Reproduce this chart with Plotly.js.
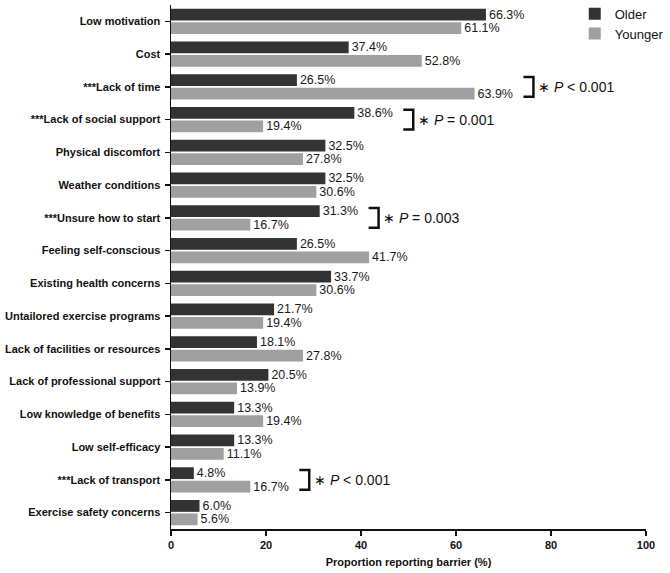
<!DOCTYPE html>
<html>
<head>
<meta charset="utf-8">
<script src="https://cdn.plot.ly/plotly-3.0.1.min.js"></script>
<style>html,body{margin:0;padding:0;background:#fff;}#chart{width:670px;height:573px;}</style>
</head>
<body>
<div id="chart"></div>
<script>
const categories = [
  "Low motivation", "Cost", "***Lack of time", "***Lack of social support",
  "Physical discomfort", "Weather conditions", "***Unsure how to start",
  "Feeling self-conscious", "Existing health concerns", "Untailored exercise programs",
  "Lack of facilities or resources", "Lack of professional support",
  "Low knowledge of benefits", "Low self-efficacy", "***Lack of transport",
  "Exercise safety concerns"
];
const olderValues = [66.3, 37.4, 26.5, 38.6, 32.5, 32.5, 31.3, 26.5, 33.7, 21.7, 18.1, 20.5, 13.3, 13.3, 4.8, 6.0];
const youngerValues = [61.1, 52.8, 63.9, 19.4, 27.8, 30.6, 16.7, 41.7, 30.6, 19.4, 27.8, 13.9, 19.4, 11.1, 16.7, 5.6];
const sigCategories = ["***Lack of time", "***Lack of social support", "***Unsure how to start", "***Lack of transport"];
const sigLabels = ["<i>P</i> < 0.001", "<i>P</i> = 0.001", "<i>P</i> = 0.003", "<i>P</i> < 0.001"];
const xTicks = [0, 20, 40, 60, 80, 100];

const FONT = "Liberation Sans, Arial, sans-serif";

const traces = [
  {
    type: "bar", orientation: "h", name: "Older",
    y: categories, x: olderValues,
    marker: {color: "#333333", line: {width: 0}},
    text: olderValues.map(v => v.toFixed(1) + "%"),
    textposition: "outside", constraintext: "none", cliponaxis: false,
    textfont: {family: FONT, size: 12.5, color: "#1a1a1a"},
    hoverinfo: "x+y"
  },
  {
    type: "bar", orientation: "h", name: "Younger",
    y: categories, x: youngerValues,
    marker: {color: "#a0a0a0", line: {width: 0}},
    text: youngerValues.map(v => v.toFixed(1) + "%"),
    textposition: "outside", constraintext: "none", cliponaxis: false,
    textfont: {family: FONT, size: 12.5, color: "#1a1a1a"},
    hoverinfo: "x+y"
  }
];

const shapes = [];
const annotations = [];
sigCategories.forEach((c, i) => {
  const idx = categories.indexOf(c);
  const m = Math.max(olderValues[idx], youngerValues[idx]);
  const xl = m + 10.3, xv = m + 12.4;
  const y0 = idx - 0.3, y1 = idx + 0.3;
  shapes.push({
    type: "path", xref: "x", yref: "y",
    path: `M ${xl} ${y0} L ${xv} ${y0} L ${xv} ${y1} L ${xl} ${y1}`,
    line: {color: "#111", width: 2.5}
  });
  annotations.push({
    xref: "x", yref: "y", x: xv + 0.6, y: idx, xanchor: "left", yanchor: "middle",
    text: "∗ " + sigLabels[i], showarrow: false,
    font: {family: FONT, size: 14, color: "#111"}
  });
});

const layout = {
  width: 670, height: 573,
  margin: {l: 171, r: 24, t: 5, b: 44, autoexpand: false},
  paper_bgcolor: "#fff", plot_bgcolor: "#fff",
  barmode: "group", bargap: 0.18, bargroupgap: 0.12,
  showlegend: true,
  legend: {
    x: 0.85, y: 1.012, xanchor: "left", yanchor: "top",
    font: {family: FONT, size: 13, color: "#111"},
    bgcolor: "rgba(0,0,0,0)", tracegroupgap: 0, itemwidth: 30
  },
  xaxis: {
    range: [0, 100], tickvals: xTicks, ticktext: xTicks.map(String),
    showgrid: false, zeroline: false,
    showline: true, linecolor: "#111", linewidth: 1.5,
    ticks: "outside", ticklen: 5, tickwidth: 1.5, tickcolor: "#111",
    tickfont: {family: FONT, size: 11, color: "#111", weight: "bold"},
    title: {text: "<b>Proportion reporting barrier (%)</b>", font: {family: FONT, size: 11, color: "#111"}, standoff: 8},
    fixedrange: true
  },
  yaxis: {
    type: "category", autorange: "reversed",
    showgrid: false, zeroline: false,
    showline: true, linecolor: "#111", linewidth: 1.5,
    ticks: "outside", ticklen: 5, tickwidth: 1.5, tickcolor: "#111",
    tickfont: {family: FONT, size: 11, color: "#111", weight: "bold"},
    ticklabelstandoff: 2,
    fixedrange: true
  },
  shapes: shapes,
  annotations: annotations,
  font: {family: FONT}
};

Plotly.newPlot("chart", traces, layout, {displayModeBar: false, staticPlot: true});
</script>
</body>
</html>
